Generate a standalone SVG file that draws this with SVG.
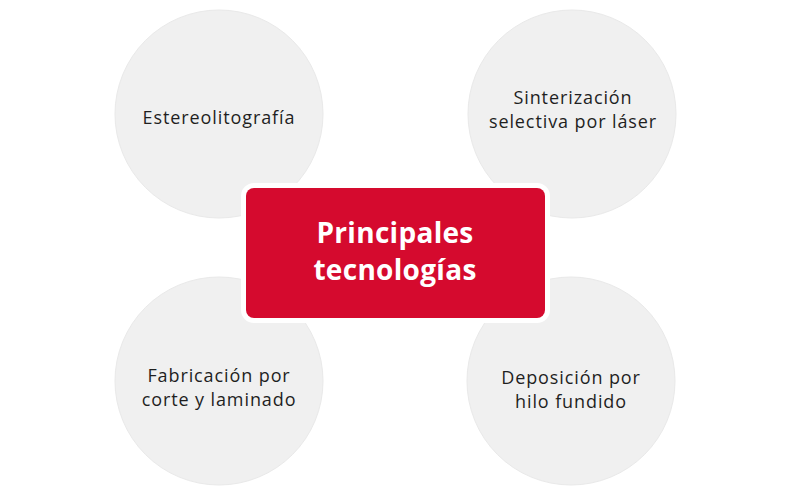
<svg xmlns="http://www.w3.org/2000/svg" width="790" height="494" viewBox="0 0 790 494">
<style>
.c{fill:#f0f0f0;stroke:#e9e9e9;stroke-width:1}
.t{font-family:"Open Sans","Liberation Sans",sans-serif;font-size:18px;letter-spacing:0.9px;fill:#1f1f1f;text-anchor:middle}
.h{font-family:"Open Sans","Liberation Sans",sans-serif;font-size:28px;letter-spacing:0.3px;font-weight:bold;fill:#ffffff;text-anchor:middle}
</style>
<rect width="790" height="494" fill="#ffffff"/>
<g id="connectors"></g>
<g id="n1"><circle class="c" cx="219" cy="114" r="104"/><text class="t" x="219" y="124">Estereolitografía</text></g>
<g id="n2"><circle class="c" cx="572" cy="114" r="104"/><text class="t" x="573" y="104">Sinterización</text><text class="t" x="573" y="128">selectiva por láser</text></g>
<g id="n3"><circle class="c" cx="219" cy="381" r="104"/><text class="t" x="219" y="382">Fabricación por</text><text class="t" x="219" y="406">corte y laminado</text></g>
<g id="n4"><circle class="c" cx="571" cy="381" r="104"/><text class="t" x="571" y="384">Deposición por</text><text class="t" x="571" y="408">hilo fundido</text></g>
<g id="center"><rect x="246" y="188" width="299" height="130" rx="8" fill="#d50a2e" stroke="#ffffff" stroke-width="10" paint-order="stroke"/><text class="h" x="395" y="243">Principales</text><text class="h" x="395" y="280">tecnologías</text></g>
</svg>
